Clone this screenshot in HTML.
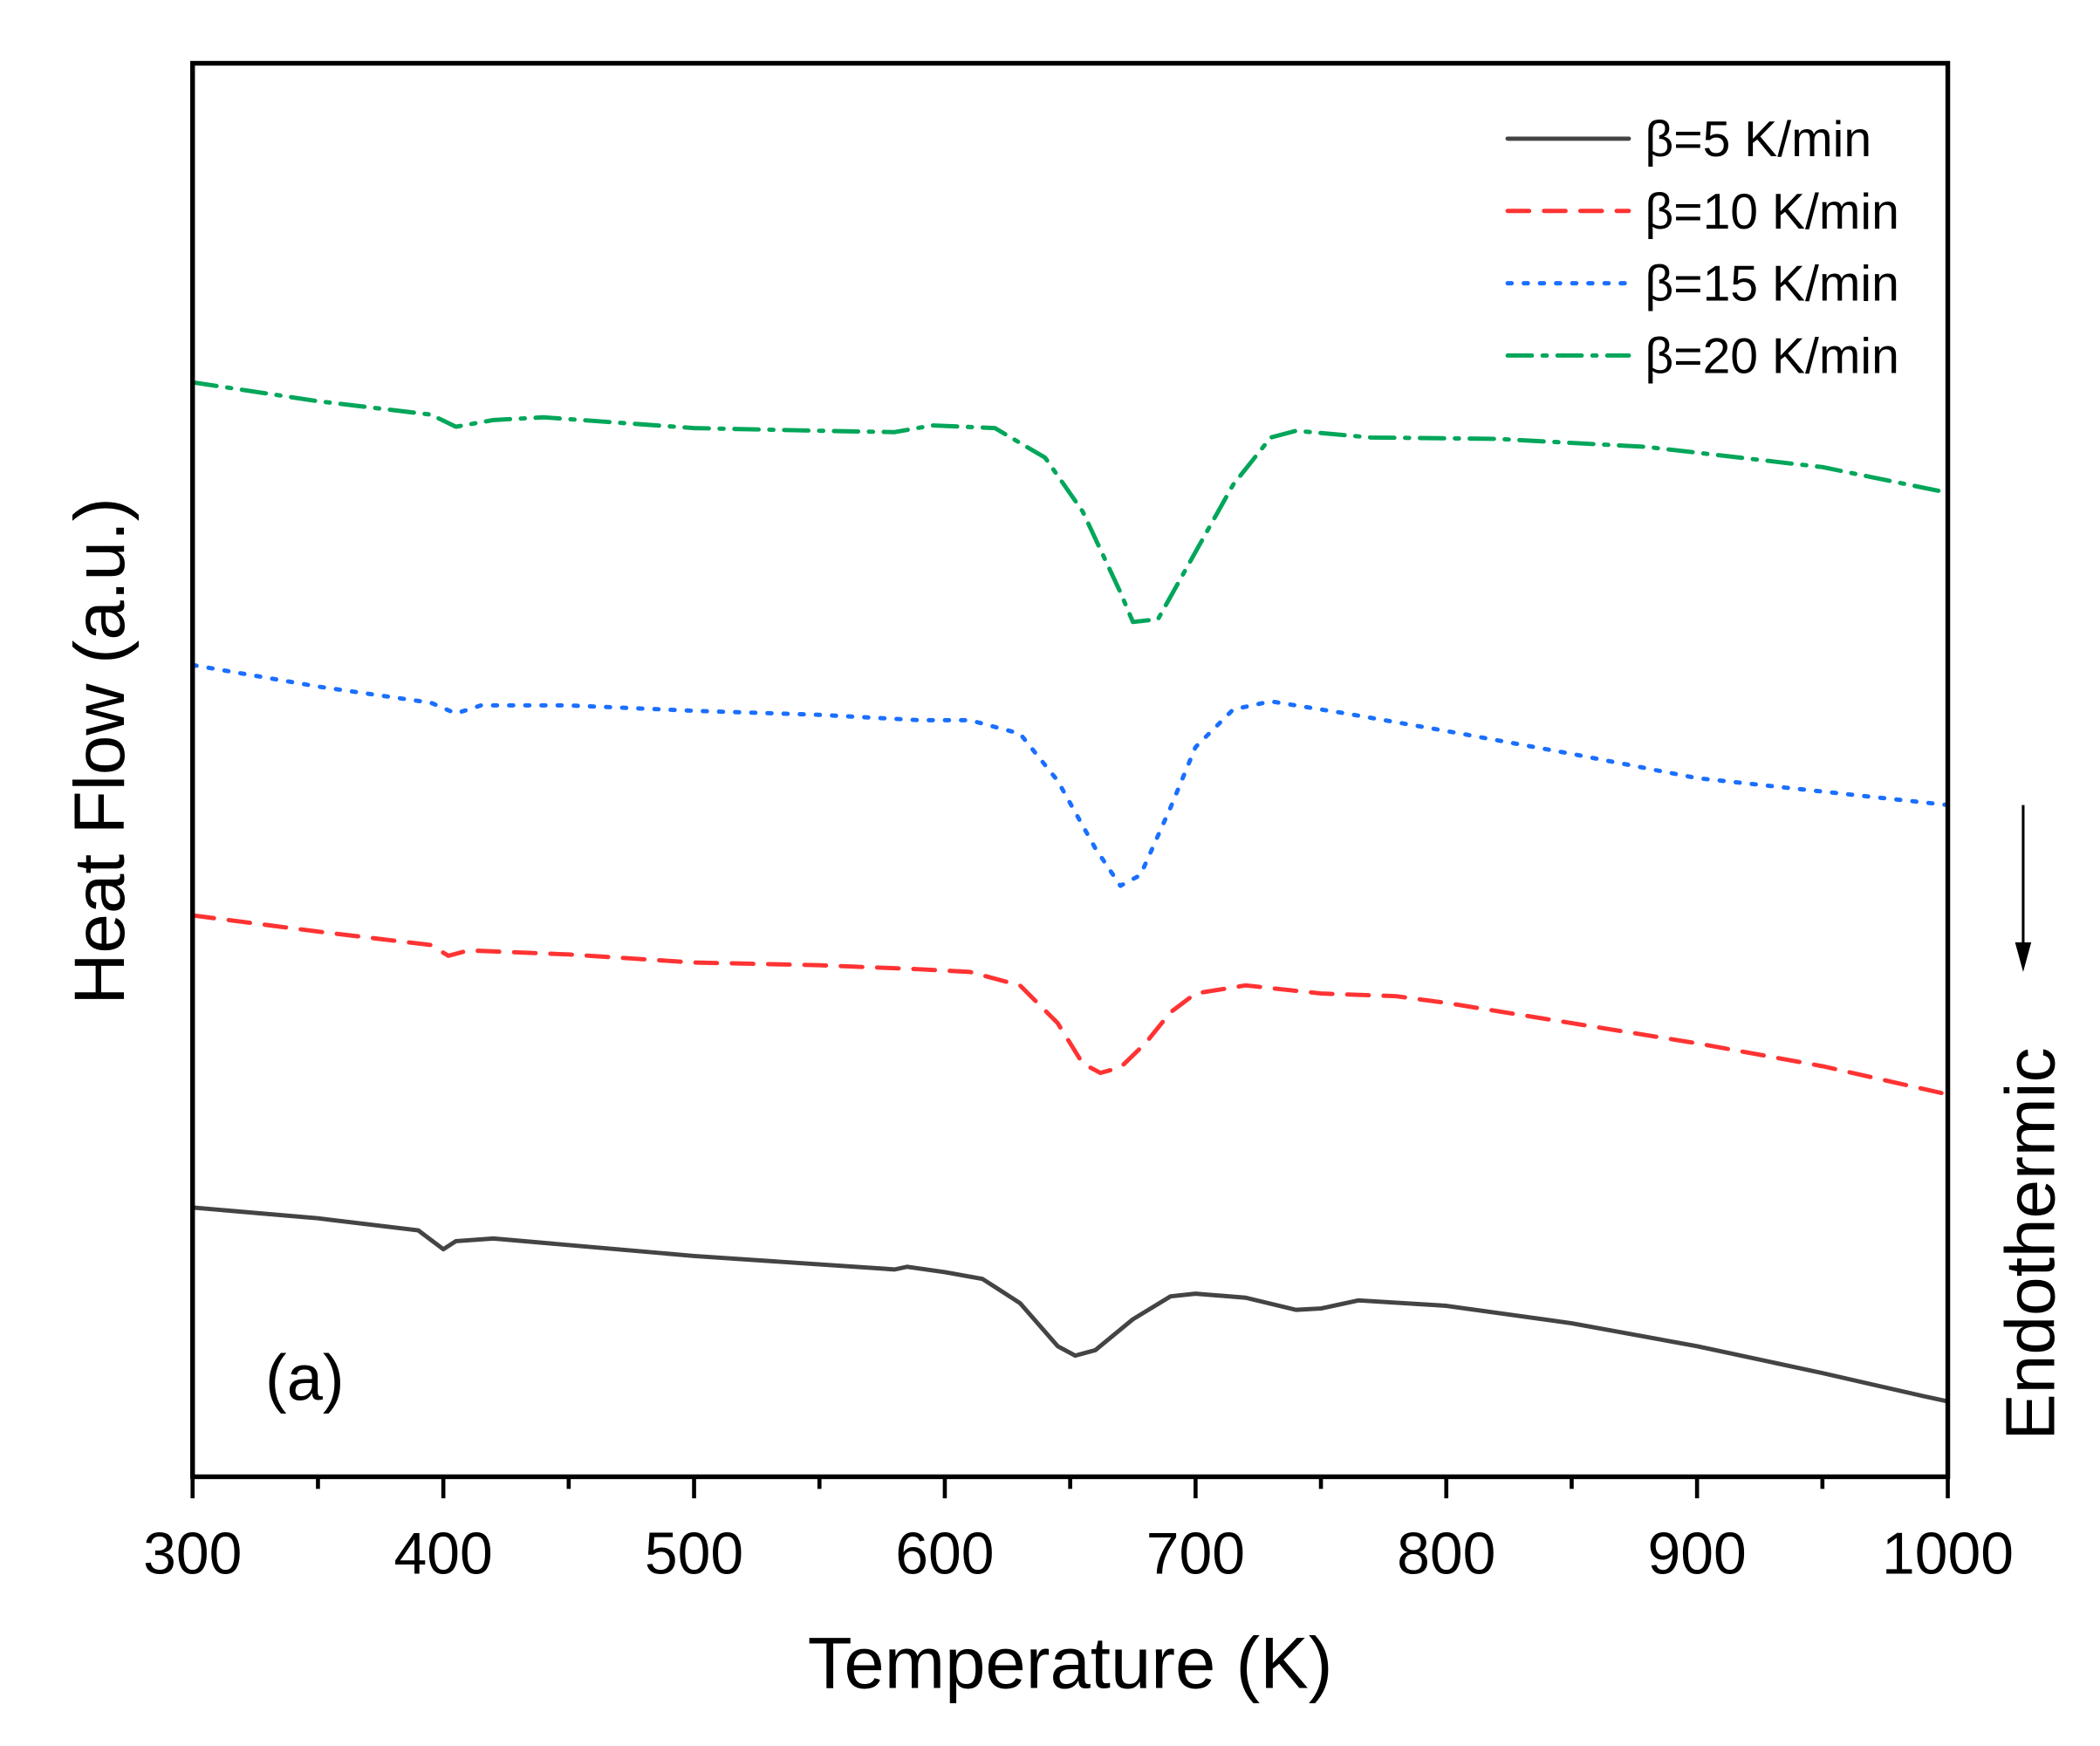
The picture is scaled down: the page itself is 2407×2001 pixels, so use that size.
<!DOCTYPE html>
<html><head><meta charset="utf-8"><style>
html,body{margin:0;padding:0;background:#fff;}
svg{display:block;font-family:"Liberation Sans",Arial,sans-serif;}
</style></head><body>
<svg id="chart" width="2407" height="2001" viewBox="0 0 1560 1297" xmlns="http://www.w3.org/2000/svg">
<rect x="0" y="0" width="1560" height="1297" fill="#fff"/>
<g id="series"></g>
<rect x="143" y="47" width="1304" height="1050" fill="none" stroke="#000" stroke-width="3.5"/>
<g id="xticks"></g>
<text x="795" y="1254" font-size="54" text-anchor="middle">Temperature (K)</text>
<text transform="translate(92,558) rotate(-90)" font-size="53" text-anchor="middle">Heat Flow (a.u.)</text>
<text transform="translate(1526,924) rotate(-90)" font-size="52" text-anchor="middle">Endothermic</text>
<line x1="1503" y1="598" x2="1503" y2="705" stroke="#000" stroke-width="2"/>
<polygon points="1497,700 1509,700 1503,722" fill="#000"/>
<text x="197" y="1040" font-size="48">(a)</text>
<g id="legend"></g>
</svg>
<script>
const temps5 = [300,350,390,400,405,420,500,580,585,600,615,630,645,652,660,675,690,700,720,740,750,765,800,850,900,950,990,1000];
const flow5 = [20.0,19.2,18.3,16.9,17.5,17.7,16.4,15.4,15.6,15.2,14.7,12.9,9.7,9.0,9.4,11.7,13.4,13.6,13.3,12.4,12.5,13.1,12.7,11.4,9.7,7.7,6.0,5.6];
const temps10 = [300,350,395,402,410,450,500,550,590,610,630,645,655,662,670,680,690,700,720,750,780,800,850,900,950,1000];
const flow10 = [41.7,40.5,39.5,38.7,39.1,38.8,38.2,38.0,37.7,37.5,36.5,33.7,30.7,30.0,30.4,32.2,34.5,35.9,36.5,35.9,35.7,35.2,33.7,32.2,30.5,28.4];
const temps15 = [300,350,395,405,415,450,500,550,590,610,630,645,660,670,678,690,700,715,730,760,800,850,900,950,1000];
const flow15 = [60.3,58.7,57.5,56.7,57.3,57.3,56.9,56.6,56.2,56.2,55.2,51.7,46.7,43.9,44.7,49.7,54.2,57.0,57.6,56.7,55.4,53.7,51.9,50.9,49.9];
const temps20 = [300,350,395,405,420,440,500,550,580,595,620,640,655,670,675,685,700,715,730,740,770,820,880,950,1000];
const flow20 = [81.3,79.9,78.9,78.0,78.5,78.7,77.9,77.7,77.6,78.1,77.9,75.7,71.7,65.7,63.5,63.7,68.7,73.7,77.2,77.7,77.2,77.1,76.5,75.0,73.1];
const xTicks = [300,400,500,600,700,800,900,1000];
const xMinorTicks = [350,450,550,650,750,850,950];
const legendLabels = ["β=5 K/min","β=10 K/min","β=15 K/min","β=20 K/min"];

const NS = "http://www.w3.org/2000/svg";
function xS(t){ return 143 + (t-300)/700*1304; }
function yS(v){ return 1097 - v*10; }
const styles = [
  {c:"#444444", d:"", n:"series-5kmin"},
  {c:"#ff3333", d:"16 11", n:"series-10kmin"},
  {c:"#1a6fff", d:"3 9", n:"series-15kmin"},
  {c:"#00a65a", d:"18 8 3 8", n:"series-20kmin"}
];
const data = [[temps5,flow5],[temps10,flow10],[temps15,flow15],[temps20,flow20]];
const sg = document.getElementById("series");
data.forEach((s,i)=>{
  const p = document.createElementNS(NS,"path");
  p.setAttribute("d", s[0].map((t,j)=>(j?"L":"M")+xS(t).toFixed(1)+","+yS(s[1][j]).toFixed(1)).join(""));
  p.setAttribute("fill","none");
  p.setAttribute("stroke",styles[i].c);
  p.setAttribute("stroke-width","3.2");
  p.setAttribute("stroke-linecap","round");
  p.setAttribute("stroke-linejoin","round");
  if(styles[i].d) p.setAttribute("stroke-dasharray",styles[i].d);
  
  
  sg.appendChild(p);
});
const xg = document.getElementById("xticks");
xTicks.forEach(t=>{
  const l = document.createElementNS(NS,"line");
  l.setAttribute("x1",xS(t));l.setAttribute("x2",xS(t));
  l.setAttribute("y1",1097);l.setAttribute("y2",1113);
  l.setAttribute("stroke","#000");l.setAttribute("stroke-width","3");
  
  
  xg.appendChild(l);
  const tx = document.createElementNS(NS,"text");
  tx.setAttribute("x",xS(t));tx.setAttribute("y",1169);
  tx.setAttribute("font-size","44");tx.setAttribute("text-anchor","middle");
  tx.textContent = t;
  
  
  xg.appendChild(tx);
});
xMinorTicks.forEach(t=>{
  const l = document.createElementNS(NS,"line");
  l.setAttribute("x1",xS(t));l.setAttribute("x2",xS(t));
  l.setAttribute("y1",1097);l.setAttribute("y2",1106);
  l.setAttribute("stroke","#000");l.setAttribute("stroke-width","3");
  
  
  xg.appendChild(l);
});
const lg = document.getElementById("legend");
legendLabels.forEach((lab,i)=>{
  const y = 103 + i*53.7;
  const l = document.createElementNS(NS,"line");
  l.setAttribute("x1",1120);l.setAttribute("x2",1210);
  l.setAttribute("y1",y);l.setAttribute("y2",y);
  l.setAttribute("stroke",styles[i].c);l.setAttribute("stroke-width","3.2");
  l.setAttribute("stroke-linecap","round");
  if(styles[i].d) l.setAttribute("stroke-dasharray",styles[i].d);
  
  
  lg.appendChild(l);
  const tx = document.createElementNS(NS,"text");
  tx.setAttribute("x",1222);tx.setAttribute("y",y+13);
  tx.setAttribute("font-size","37");
  tx.textContent = lab;
  
  
  lg.appendChild(tx);
});
</script>
</body></html>
